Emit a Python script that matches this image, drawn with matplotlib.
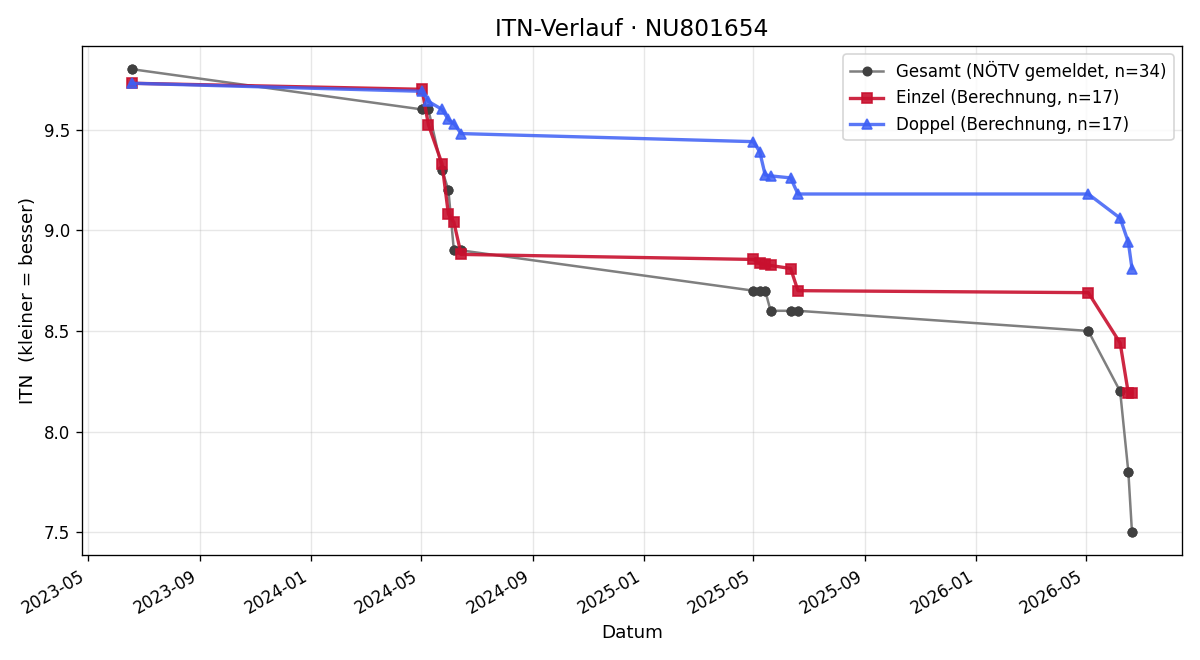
import matplotlib
matplotlib.use("Agg")
import matplotlib.pyplot as plt
import matplotlib.dates as mdates
import pandas as pd

# --- Daten ---
match_dates = ["2023-06-18", "2024-05-02", "2024-05-09", "2024-05-24", "2024-05-31",
               "2024-06-06", "2024-06-14", "2025-05-01", "2025-05-08", "2025-05-14",
               "2025-05-20", "2025-06-11", "2025-06-19", "2026-05-04", "2026-06-08",
               "2026-06-17", "2026-06-21"]

# Gesamt: je Termin zwei Meldungen (Einzel + Doppel)
gesamt_dates = ["2023-06-18", "2023-06-18", "2024-05-02", "2024-05-02", "2024-05-09",
                "2024-05-09", "2024-05-24", "2024-05-24", "2024-05-31", "2024-05-31",
                "2024-06-06", "2024-06-06", "2024-06-14", "2024-06-14", "2025-05-01",
                "2025-05-01", "2025-05-08", "2025-05-08", "2025-05-14", "2025-05-14",
                "2025-05-20", "2025-05-20", "2025-06-11", "2025-06-11", "2025-06-19",
                "2025-06-19", "2026-05-04", "2026-05-04", "2026-06-08", "2026-06-08",
                "2026-06-17", "2026-06-17", "2026-06-21", "2026-06-21"]
gesamt_itn = [9.80, 9.80, 9.60, 9.60, 9.60, 9.60, 9.30, 9.30, 9.20, 9.20,
              8.90, 8.90, 8.90, 8.90, 8.70, 8.70, 8.70, 8.70, 8.70, 8.70,
              8.60, 8.60, 8.60, 8.60, 8.60, 8.60, 8.50, 8.50, 8.20, 8.20,
              7.80, 7.80, 7.50, 7.50]

einzel_itn = [9.73, 9.70, 9.525, 9.33, 9.08, 9.04, 8.88, 8.855, 8.835, 8.83,
              8.825, 8.81, 8.70, 8.69, 8.44, 8.19, 8.19]
doppel_itn = [9.73, 9.69, 9.64, 9.60, 9.55, 9.53, 9.48, 9.44, 9.39, 9.275,
              9.27, 9.26, 9.18, 9.18, 9.06, 8.94, 8.81]

d_match = pd.to_datetime(match_dates)
d_gesamt = pd.to_datetime(gesamt_dates)

fig, ax = plt.subplots(figsize=(10, 5.5), dpi=120)

ax.plot(d_gesamt, gesamt_itn, color="#7f7f7f", lw=1.5, marker="o", ms=5,
        mfc="#404040", mec="#404040",
        label=f"Gesamt (NÖTV gemeldet, n={len(gesamt_itn)})")
ax.plot(d_match, einzel_itn, color="#c8102e", alpha=0.9, lw=2, marker="s", ms=6,
        label=f"Einzel (Berechnung, n={len(einzel_itn)})")
ax.plot(d_match, doppel_itn, color="#3d5ff5", alpha=0.85, lw=2, marker="^", ms=6,
        label=f"Doppel (Berechnung, n={len(doppel_itn)})")

ax.set_title("ITN-Verlauf · NU801654", fontsize=14)
ax.set_xlabel("Datum", fontsize=11)
ax.set_ylabel("ITN  (kleiner = besser)", fontsize=11)
ax.grid(True, alpha=0.3)
ax.xaxis.set_major_locator(mdates.MonthLocator(bymonth=[1, 5, 9]))
ax.xaxis.set_major_formatter(mdates.DateFormatter("%Y-%m"))
ax.legend(loc="upper right")
fig.autofmt_xdate()

plt.tight_layout()
plt.savefig("out.png")
